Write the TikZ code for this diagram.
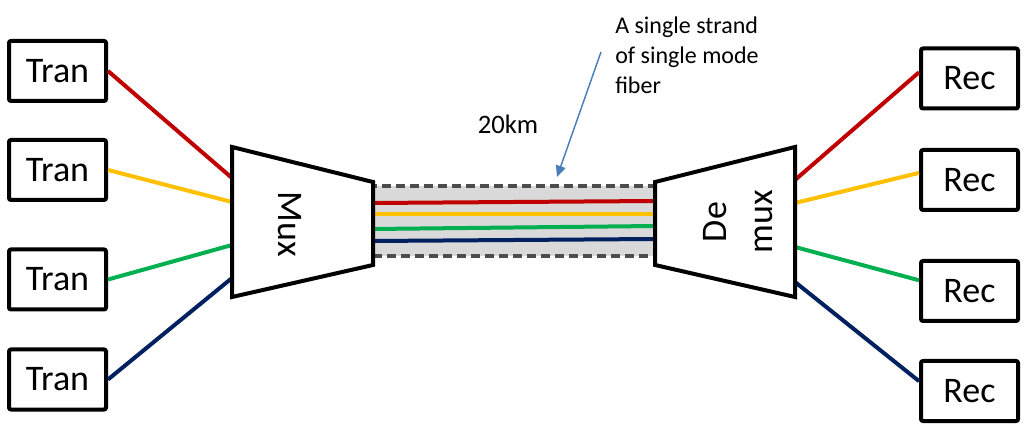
\documentclass[tikz,border=0pt]{standalone}
\usepackage{fontspec}
\setmainfont{Carlito}
\usetikzlibrary{arrows.meta}

\definecolor{chred}{HTML}{C00000}
\definecolor{chyellow}{HTML}{FFC000}
\definecolor{chgreen}{HTML}{00B050}
\definecolor{chblue}{HTML}{002060}
\definecolor{notearrow}{HTML}{4A7EBB}

\begin{document}
\begin{tikzpicture}[
  x=0.75pt, y=-0.75pt,
  >={Triangle[length=8.5pt, width=7.5pt]},
  unit/.style={draw=black, line width=3pt, rounded corners=1.5pt, fill=white,
    minimum width=72.75pt, minimum height=45pt, inner sep=0pt,
    font=\fontsize{27}{33}\selectfont},
  muxshape/.style={draw=black, line width=3pt, fill=white, line join=miter},
  devlabel/.style={inner sep=0pt, align=center, font=\fontsize{27}{35}\selectfont},
  fiberbox/.style={draw=black!70, fill=black!15, line width=2.6pt,
    dash pattern=on 7pt off 3.5pt, minimum width=211.5pt, minimum height=52.5pt, inner sep=0pt},
  wire/.style={line width=3pt},
  pointer/.style={->, draw=notearrow, fill=notearrow, line width=1.1pt},
  note/.style={inner sep=0pt, align=left, font=\fontsize{18}{22.5}\selectfont}
]
  \useasboundingbox (0,0) rectangle (1024,441);

  % --- Transmitters (left) ---
  \node[unit] (tran1) at (57.5,71) {Tran};
  \node[unit] (tran2) at (57.5,170) {Tran};
  \node[unit] (tran3) at (57.5,279.5) {Tran};
  \node[unit] (tran4) at (57.5,379.5) {Tran};

  % --- Receivers (right) ---
  \node[unit] (rec1) at (969.5,78.5) {Rec};
  \node[unit] (rec2) at (969.5,180) {Rec};
  \node[unit] (rec3) at (969.5,291) {Rec};
  \node[unit] (rec4) at (969.5,391) {Rec};

  % --- Fiber ---
  \node[fiberbox] (fiber) at (514,221) {};

  % --- Ports on the mux / demux edges ---
  \coordinate (mux-in1) at (232,178);
  \coordinate (mux-in2) at (232,202);
  \coordinate (mux-in3) at (232,245);
  \coordinate (mux-in4) at (232,278);
  \coordinate (mux-out1) at (373,203);
  \coordinate (mux-out2) at (373,214);
  \coordinate (mux-out3) at (373,229);
  \coordinate (mux-out4) at (373,241);
  \coordinate (demux-in1) at (655,201);
  \coordinate (demux-in2) at (655,214);
  \coordinate (demux-in3) at (655,226);
  \coordinate (demux-in4) at (655,239);
  \coordinate (demux-out1) at (795,180);
  \coordinate (demux-out2) at (795,203);
  \coordinate (demux-out3) at (795,247);
  \coordinate (demux-out4) at (795,282);

  % --- Wavelengths ---
  \draw[wire, chred] (tran1.east) -- (mux-in1);
  \draw[wire, chyellow] (tran2.east) -- (mux-in2);
  \draw[wire, chgreen] (tran3.east) -- (mux-in3);
  \draw[wire, chblue] (tran4.east) -- (mux-in4);

  \draw[wire, chred] (mux-out1) -- (demux-in1);
  \draw[wire, chyellow] (mux-out2) -- (demux-in2);
  \draw[wire, chgreen] (mux-out3) -- (demux-in3);
  \draw[wire, chblue] (mux-out4) -- (demux-in4);

  \draw[wire, chred] (demux-out1) -- (rec1.173);
  \draw[wire, chyellow] (demux-out2) -- (rec2.172);
  \draw[wire, chgreen] (demux-out3) -- (rec3.168);
  \draw[wire, chblue] (demux-out4) -- (rec4.169);

  % --- Mux / Demux ---
  \draw[muxshape] (232,147) -- (373,182) -- (373,265) -- (232,297) -- cycle;
  \draw[muxshape] (655,182) -- (795,147) -- (795,297) -- (655,265) -- cycle;
  \node[devlabel, rotate=-90] (mux) at (290,224) {Mux};
  \node[devlabel, rotate=90] (demux) at (738,222) {De\\mux};

  % --- Labels ---
  \node[font=\fontsize{20}{24}\selectfont] (length) at (508,124) {20km};
  \node[note, anchor=north west] (note) at (615,17) {A single strand\\of single mode\\fiber};
  \coordinate (notefoot) at (601,52);
  \coordinate (fibertop) at (557,177);
  \draw[pointer] (notefoot) -- (fibertop);

\end{tikzpicture}
\end{document}
